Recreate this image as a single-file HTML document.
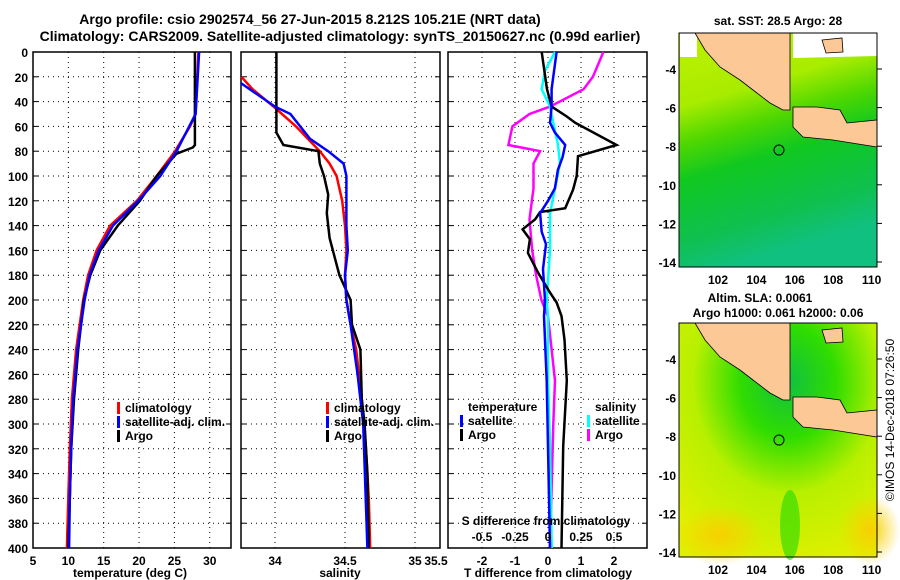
<!DOCTYPE html>
<html><head><meta charset="utf-8"><style>
body{margin:0;background:#fff}
svg{display:block;font-family:"Liberation Sans",sans-serif;font-weight:bold}
</style></head><body>
<svg id="c" width="900" height="580" viewBox="0 0 900 580">
<defs>
<linearGradient id="sst" x1="0" y1="0" x2="0.25" y2="1">
<stop offset="0" stop-color="#c0f000"/><stop offset="0.3" stop-color="#a8ec00"/><stop offset="0.45" stop-color="#50d800"/><stop offset="0.6" stop-color="#10c820"/><stop offset="0.85" stop-color="#10c050"/><stop offset="1" stop-color="#10c080"/></linearGradient>
<radialGradient id="sla" cx="0.55" cy="0.25" r="0.8">
<stop offset="0" stop-color="#10c040"/><stop offset="0.3" stop-color="#30dd00"/><stop offset="0.6" stop-color="#b8f000"/><stop offset="1" stop-color="#e0f000"/></radialGradient>
<radialGradient id="spot"><stop offset="0" stop-color="#f8d000"/><stop offset="1" stop-color="#f8d000" stop-opacity="0"/></radialGradient>
</defs>
<g font-size="14" text-anchor="middle">
<text x="310" y="24">Argo profile: csio 2902574_56 27-Jun-2015 8.212S 105.21E (NRT data)</text>
<text x="340" y="41">Climatology: CARS2009. Satellite-adjusted climatology: synTS_20150627.nc (0.99d earlier)</text>
</g>
<g id="p1"></g>
<g id="p2"></g>
<g id="p3"></g>
<g id="maps"></g>
<text x="0" y="0" transform="translate(894,420) rotate(-90)" text-anchor="middle" font-size="12" font-weight="normal">©IMOS 14-Dec-2018 07:26:50</text>
</svg>
<script>
// ---- data ----
const tArgoD=[0,75,77,82,100,120,140,160,180,200,240,280,320,360,400];
const tArgoV=[27.9,27.9,27.6,25.3,22.5,20.1,17,14.5,13.1,12.2,11.4,10.8,10.4,10.2,10];
const tClimD=[0,50,60,80,100,120,140,160,180,200,240,280,320,360,400];
const tClimV=[28.4,28,27.2,25.1,22.5,19.7,15.9,14,12.8,12.1,11.1,10.5,10.2,10,9.8];
const tSatD=[0,50,80,100,120,140,160,180,200,240,280,320,360,400];
const tSatV=[28.5,28,25.3,23,19.9,16.3,14.3,13,12.3,11.3,10.7,10.4,10.2,10.1];
const sArgoD=[0,65,75,80,90,100,115,130,150,180,200,220,240,280,300,340,400];
const sArgoV=[34.01,34.01,34.06,34.31,34.32,34.35,34.38,34.37,34.39,34.46,34.54,34.55,34.61,34.62,34.64,34.66,34.67];
const sClimD=[20,30,44,60,80,90,100,120,140,160,180,200,220,240,280,320,360,400];
const sClimV=[33.76,33.84,33.99,34.15,34.32,34.39,34.44,34.48,34.5,34.51,34.5,34.51,34.54,34.58,34.62,34.65,34.67,34.68];
const sSatD=[25,44,50,70,80,90,100,120,140,160,180,200,220,260,300,400];
const sSatV=[33.755,34,34.11,34.25,34.38,34.49,34.51,34.51,34.51,34.52,34.5,34.51,34.54,34.59,34.63,34.66];
const dTArgoD=[0,30,44,52,57,75,84,100,111,126,129,135,143,151,162,178,194,202,213,232,265,318,400];
const dTArgoV=[-0.19,-0.03,0.11,0.57,0.82,2.08,0.91,0.87,0.76,0.52,-0.24,-0.39,-0.77,-0.55,-0.61,-0.3,0.06,0.26,0.41,0.5,0.57,0.46,0.41];
const dTSatD=[0,30,44,57,65,75,85,95,110,120,130,145,155,175,200,213,265,318,400];
const dTSatV=[0.26,0.11,0.11,0.06,0.21,0.52,0.44,0.3,0.21,0,-0.24,-0.19,-0.06,-0.15,-0.09,-0.12,-0.04,0,0.06];
const dSSatD=[0,15,30,44,57,75,90,110,130,160,200,213,265,318,400];
const dSSatV=[0.053,-0.023,-0.048,0.015,0.04,0.076,0.091,0.053,0.015,0.015,-0.01,0,0,0.015,0.028];
const dSArgoD=[0,20,30,44,50,60,75,80,90,110,135,160,180,200,213,265,300,340,400];
const dSArgoV=[0.42,0.34,0.27,0.015,-0.14,-0.27,-0.30,-0.06,-0.11,-0.11,-0.14,-0.12,-0.09,-0.05,0,0.053,0.04,0.03,0.015];
const depthTicks=[0,20,40,60,80,100,120,140,160,180,200,220,240,260,280,300,320,340,360,380,400];
const tTicks=[5,10,15,20,25,30];
const sTicks=[34,34.5,35,35.5];
const dTTicks=[-2,-1,0,1,2];
const dSTicks=[-0.5,-0.25,0,0.25,0.5];
const dSTickLabels=["-0.5","-0.25","0","0.25","0.5"];
const lonTicks=[102,104,106,108,110];
const latTicks=[-4,-6,-8,-10,-12,-14];

const NS='http://www.w3.org/2000/svg';
function mk(p,t,a){const e=document.createElementNS(NS,t);for(const k in a)e.setAttribute(k,a[k]);p.appendChild(e);return e;}
const Y0=52,Y1=548;
const yD=d=>Y0+d*(Y1-Y0)/400;
function panel(g,x0,x1,xs,grid){
  for(const d of depthTicks){const y=yD(d);
    if(d>0&&d<400){const l=mk(g,'line',{x1:x0,x2:x1,y1:y,y2:y,stroke:'#000','stroke-dasharray':'1,4'});}
    mk(g,'line',{x1:x0,x2:x0+5,y1:y,y2:y,stroke:'#000'});mk(g,'line',{x1:x1-5,x2:x1,y1:y,y2:y,stroke:'#000'});}
  for(const v of grid){const x=xs(v);const l=mk(g,'line',{x1:x,x2:x,y1:Y0,y2:Y1,stroke:'#000','stroke-dasharray':'1,4'});}
  const r=mk(g,'rect',{x:x0,y:Y0,width:x1-x0,height:Y1-Y0,fill:'none',stroke:'#000','stroke-width':1.5});
  
}
function line(g,xs,D,V,col,w,name){
  const pts=D.map((d,i)=>xs(V[i]).toFixed(1)+','+yD(d).toFixed(1)).join(' ');
  const p=mk(g,'polyline',{points:pts,fill:'none',stroke:col,'stroke-width':w,'stroke-linejoin':'miter'});
  
}
function txt(g,x,y,s,o){const t=mk(g,'text',Object.assign({x:x,y:y,'font-size':12},o||{}));t.textContent=s;return t;}
function legend(g,x,y,items,dx){items.forEach((it,i)=>{const yy=y+i*14;
  if(it[1]){const m=mk(g,'rect',{x:x,y:yy-10,width:3,height:12,fill:it[1]});}
  const t=txt(g,x+(dx||8),yy,it[0]);});}

// Panel 1
const p1=document.getElementById('p1');
const xT=v=>33+(v-5)*7.07;
panel(p1,33,231,xT,[10,15,20,25,30]);
line(p1,xT,tClimD,tClimV,'#f00',2.5,'climatology-temperature-line');
line(p1,xT,tArgoD,tArgoV,'#000',2.5,'argo-temperature-line');
line(p1,xT,tSatD,tSatV,'#00f',2.5,'satellite-temperature-line');
for(const d of depthTicks){const t=txt(p1,28,yD(d)+5,String(d),{'text-anchor':'end'});}
for(const v of tTicks){const t=txt(p1,xT(v),565,String(v),{'text-anchor':'middle'});}
txt(p1,130,577,'temperature (deg C)',{'text-anchor':'middle'});
legend(p1,117,412,[['climatology','#f00'],['satellite-adj. clim.','#00f'],['Argo','#000']]);

// Panel 2
const p2=document.getElementById('p2');
const xS=v=>275+(v-34)*140;
panel(p2,241,440,xS,[34,34.5,35]);
line(p2,xS,sClimD,sClimV,'#f00',2.5,'climatology-salinity-line');
line(p2,xS,sArgoD,sArgoV,'#000',2.5,'argo-salinity-line');
line(p2,xS,sSatD,sSatV,'#00f',2.5,'satellite-salinity-line');
const sPos=[275,345,415,436];
sTicks.forEach((v,i)=>{const t=txt(p2,sPos[i],565,String(v),{'text-anchor':'middle'});});
txt(p2,340,577,'salinity',{'text-anchor':'middle'});
legend(p2,326,412,[['climatology','#f00'],['satellite-adj. clim.','#00f'],['Argo','#000']]);

// Panel 3
const p3=document.getElementById('p3');
const xDT=v=>548+v*33;
const xDS=v=>548+v*132;
panel(p3,448,647,xDT,[-2,-1,0,1,2]);
line(p3,xDS,dSArgoD,dSArgoV,'#f0f',2.5,'argo-salinity-difference-line');
line(p3,xDS,dSSatD,dSSatV,'#0ff',2.5,'satellite-salinity-difference-line');
line(p3,xDT,dTArgoD,dTArgoV,'#000',2.5,'argo-temperature-difference-line');
line(p3,xDT,dTSatD,dTSatV,'#00f',2.5,'satellite-temperature-difference-line');
for(const v of dTTicks){const t=txt(p3,xDT(v),565,String(v),{'text-anchor':'middle'});}
dSTicks.forEach((v,i)=>{const t=txt(p3,xDS(v),541,dSTickLabels[i],{'text-anchor':'middle'});});
txt(p3,546,525,'S difference from climatology',{'text-anchor':'middle'});
txt(p3,548,577,'T difference from climatology',{'text-anchor':'middle'});
legend(p3,460,411,[['temperature',null],['satellite','#00f'],['Argo','#000']],8);
legend(p3,587,411,[['salinity',null],['satellite','#0ff'],['Argo','#f0f']],8);

// Maps
const mg=document.getElementById('maps');
const lonX=v=>718+(v-102)*19.2;
function map(oy,fill,spots){
  const g=mk(mg,'g',{});
  
  const latY=v=>oy+69+(-4-v)*19.3;
  mk(g,'rect',{x:679,y:oy+33,width:198,height:234,fill:fill});
  if(spots){mk(g,'ellipse',{cx:720,cy:oy+245,rx:45,ry:30,fill:'url(#spot)'});mk(g,'ellipse',{cx:870,cy:oy+240,rx:30,ry:35,fill:'url(#spot)'});
    mk(g,'ellipse',{cx:790,cy:oy+235,rx:10,ry:35,fill:'#20d800',opacity:0.6});}
  if(!spots){mk(g,'rect',{x:680,y:oy+33,width:17,height:24,fill:'#fff'});
    mk(g,'polygon',{points:`793,${oy+33} 877,${oy+33} 877,${oy+56} 793,${oy+58}`,fill:'#fff'});}
  mk(g,'polygon',{points:`822,${oy+40} 842,${oy+38} 843,${oy+52} 826,${oy+53}`,fill:'#fcc896',stroke:'#000','stroke-width':0.8});
  const l=mk(g,'polygon',{points:`695,${oy+33} 705,${oy+50} 720,${oy+67} 740,${oy+80} 753,${oy+90} 770,${oy+103} 783,${oy+110} 790,${oy+110} 790,${oy+33}`,fill:'#fcc896',stroke:'#000','stroke-width':0.8});
  
  const j=mk(g,'polygon',{points:`793,${oy+107} 793,${oy+127} 803,${oy+137} 833,${oy+140} 877,${oy+147} 877,${oy+120} 847,${oy+123} 840,${oy+110} 817,${oy+107}`,fill:'#fcc896',stroke:'#000','stroke-width':0.8});
  
  mk(g,'circle',{cx:779,cy:latY(-8.2),r:5,fill:'none',stroke:'#000'});
  mk(g,'rect',{x:679,y:oy+33,width:198,height:234,fill:'none',stroke:'#000'});
  for(const v of latTicks){const y=latY(v);mk(g,'line',{x1:877,x2:882,y1:y,y2:y,stroke:'#000'});
    const t=txt(g,676,y+5,String(v),{'text-anchor':'end'});}
  for(const v of lonTicks){const t=txt(g,lonX(v),oy+284,String(v),{'text-anchor':'middle'});}
  return g;
}
const m1=map(0,'url(#sst)',false);
txt(m1,778,25,'sat. SST: 28.5 Argo: 28',{'text-anchor':'middle'});
const m2=map(290,'url(#sla)',true);
txt(m2,760,302,'Altim. SLA: 0.0061',{'text-anchor':'middle'});
txt(m2,778,317,'Argo h1000: 0.061 h2000: 0.06',{'text-anchor':'middle'});
</script>
</body></html>
